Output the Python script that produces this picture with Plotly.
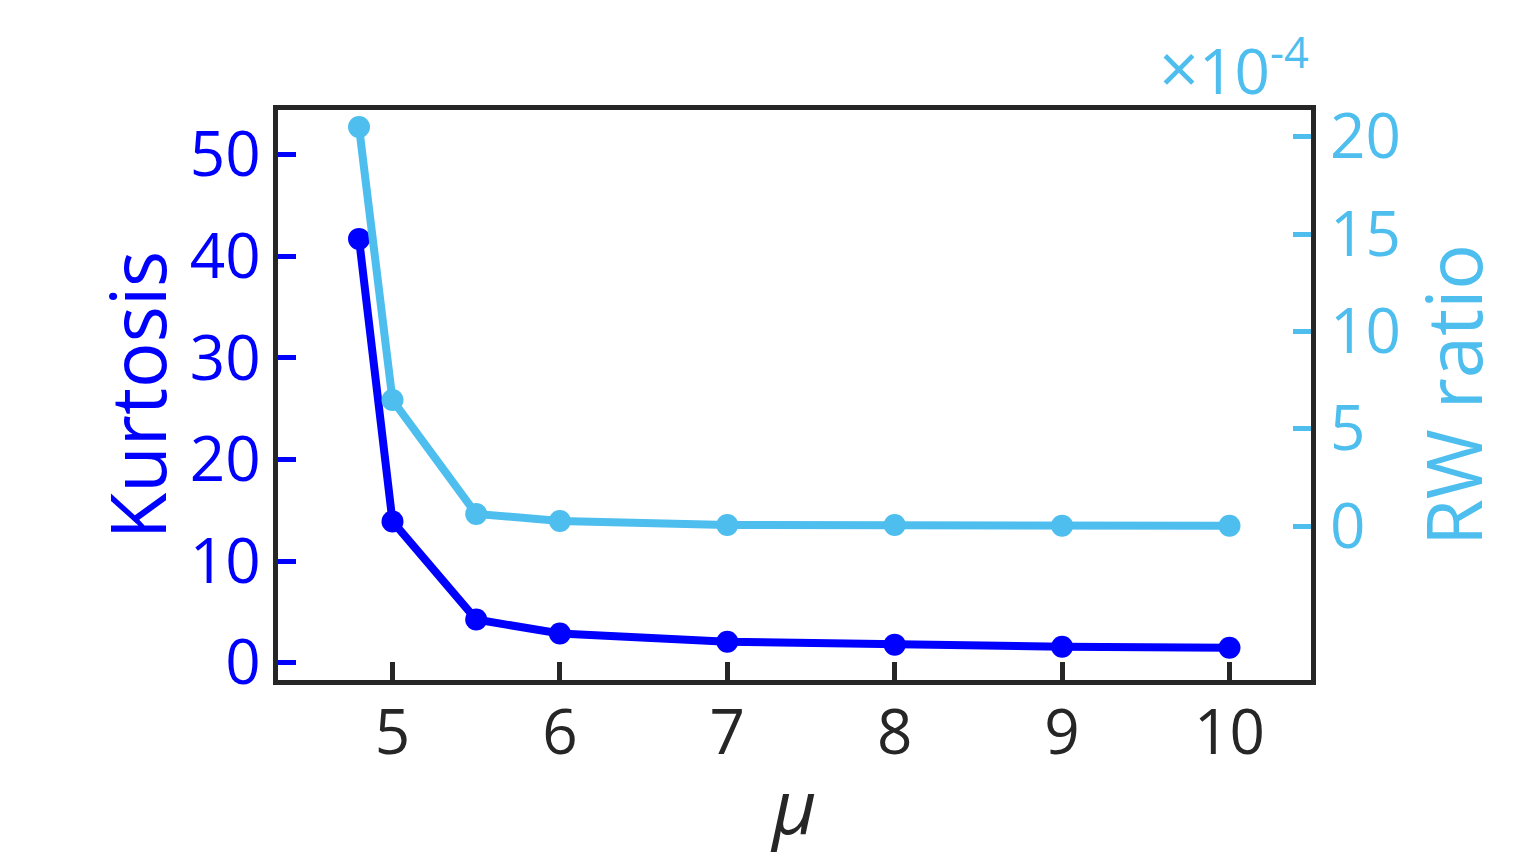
import plotly.graph_objects as go

# data
mu = [4.8, 5, 5.5, 6, 7, 8, 9, 10]
kurtosis = [41.7, 13.9, 4.25, 2.87, 2.07, 1.78, 1.58, 1.48]
rw_ratio = [20.5, 6.47, 0.62, 0.26, 0.05, 0.05, 0.02, 0.01]  # in units of 1e-4

x_ticks = [5, 6, 7, 8, 9, 10]
k_ticks = [0, 10, 20, 30, 40, 50]
rw_ticks = [0, 5, 10, 15, 20]

BLUE = "#0000FF"
LIGHT = "#4DBEEE"
DARK = "#262626"
FONT = "Open Sans"

fig = go.Figure()
fig.add_trace(go.Scatter(x=mu, y=kurtosis, mode="lines+markers",
                         line=dict(color=BLUE, width=8),
                         marker=dict(color=BLUE, size=22), yaxis="y"))
fig.add_trace(go.Scatter(x=mu, y=rw_ratio, mode="lines+markers",
                         line=dict(color=LIGHT, width=8),
                         marker=dict(color=LIGHT, size=22), yaxis="y2"))

# page body has an 8px margin, so the figure is drawn 16px smaller than the window
fig.update_layout(
    width=1520, height=848,
    margin=dict(l=270, r=217, t=102, b=176),
    plot_bgcolor="white", paper_bgcolor="white",
    showlegend=False,
    font=dict(family=FONT, size=62, color=DARK),
    xaxis=dict(range=[4.316, 10.487], tickvals=x_ticks, ticks="inside",
               ticklen=18, tickwidth=5, tickcolor=DARK, automargin=False,
               showline=True, linecolor=DARK, linewidth=5, mirror=True,
               showgrid=False, zeroline=False, ticklabelstandoff=-5,
               tickfont=dict(color=DARK, size=62),
               title=dict(text="<i>μ</i>", font=dict(size=76, color=DARK), standoff=47)),
    yaxis=dict(range=[-1.70, 54.38], tickvals=k_ticks, ticks="inside",
               ticklen=18, tickwidth=5, tickcolor=BLUE, automargin=False,
               showline=True, linecolor=DARK, linewidth=5, mirror=True,
               showgrid=False, zeroline=False, ticklabelstandoff=0,
               tickfont=dict(color=BLUE, size=62),
               title=dict(text="Kurtosis", font=dict(size=76, color=BLUE), standoff=0)),
    yaxis2=dict(range=[-7.91, 21.37], tickvals=rw_ticks, ticks="inside",
                ticklen=18, tickwidth=5, tickcolor=LIGHT, automargin=False,
                overlaying="y", side="right", showline=False,
                showgrid=False, zeroline=False, ticklabelstandoff=18,
                tickfont=dict(color=LIGHT, size=62),
                title=dict(text="RW ratio", font=dict(size=76, color=LIGHT), standoff=0)),
)

fig.add_annotation(text="<span style='font-size:70px'>×</span>10<sup>-4</sup>",
                   xref="paper", yref="paper",
                   x=1.0, y=1.0, xanchor="right", yanchor="bottom", yshift=-7,
                   showarrow=False, font=dict(family=FONT, size=62, color=LIGHT))

fig.write_html("out.html")
